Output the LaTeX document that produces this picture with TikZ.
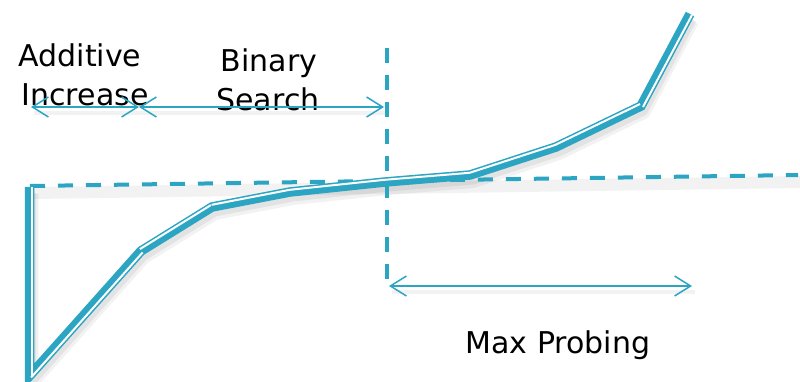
\documentclass[tikz,border=0pt]{standalone}
\usepackage{fontspec}
\setmainfont{DejaVu Sans}
\usetikzlibrary{arrows.meta}
\definecolor{teal1}{RGB}{44,165,195}
\tikzset{
  curveband/.style={draw=teal1, line width=9.5pt, line join=miter},
  curvestripe/.style={draw=white, line width=2pt, line cap=butt},
  shadowline/.style={draw=black, draw opacity=0.05, line width=12pt, line join=round},
  shadowcore/.style={draw=black, draw opacity=0.06, line width=7pt, line join=round},
  dashref/.style={draw=teal1, line width=4pt, dash pattern=on 15pt off 13pt},
  dashvert/.style={draw=teal1, line width=4pt, dash pattern=on 15pt off 12pt},
  span/.style={draw=teal1, line width=1.5pt, {Straight Barb[length=16pt,width=20pt,line width=1.5pt]}-{Straight Barb[length=16pt,width=20pt,line width=1.5pt]}},
  label/.style={font=\fontsize{30}{36}\selectfont, text=black, inner sep=0pt, anchor=base},
  imgshift/.style 2 args={transform canvas={xshift=#1pt, yshift=-#2pt}}
}
\begin{document}
\begin{tikzpicture}[x=1pt,y=-1pt]
\useasboundingbox[fill=white] (0,0) rectangle (800,382);
% curve points
\coordinate (p0) at (29.5,187);
\coordinate (p1) at (29.5,376);
\coordinate (p2) at (141,251);
\coordinate (p3) at (212,207);
\coordinate (p4) at (290,192);
\coordinate (p5) at (385,182);
\coordinate (p6) at (470,175);
\coordinate (p7) at (556,147);
\coordinate (p8) at (641,106);
\coordinate (p9) at (690,14);
% reference lines
\coordinate (h0) at (30,186);
\coordinate (h1) at (798,175);
\coordinate (v0) at (387,48);
\coordinate (v1) at (387,288);
% arrow ends
\coordinate (a0) at (31,107);
\coordinate (a1) at (139,107);
\coordinate (a2) at (384,107);
\coordinate (m0) at (389,286);
\coordinate (m1) at (692,286);

% faint shadows
\draw[shadowline, imgshift={3}{7}] (h0) -- (h1);
\draw[shadowline, imgshift={3}{7}] (p0) -- (p1) -- (p2) -- (p3) -- (p4) -- (p5) -- (p6) -- (p7) -- (p8) -- (p9);
\draw[shadowcore, imgshift={3}{6}] (p0) -- (p1) -- (p2) -- (p3) -- (p4) -- (p5) -- (p6) -- (p7) -- (p8) -- (p9);
\draw[shadowline, line width=4pt, imgshift={3}{6}] (m0) -- (m1);
\draw[shadowline, line width=4pt, imgshift={3}{6}] (a0) -- (a2);

\draw[dashref] (h0) -- (h1);
\draw[dashvert] (v0) -- (v1);

\draw[curveband] (p0) -- (p1) -- (p2) -- (p3) -- (p4) -- (p5) -- (p6) -- (p7) -- (p8) -- (p9);
\draw[curvestripe, imgshift={2.2}{0}] (p0) -- (p1);
\draw[curvestripe, imgshift={1.65}{1.45}] (p1) -- (p2);
\draw[curvestripe, imgshift={-1.15}{-1.9}] (p2) -- (p3);
\draw[curvestripe, imgshift={-0.35}{-2.2}] (p3) -- (p4) -- (p5) -- (p6);
\draw[curvestripe, imgshift={-0.7}{-2.1}] (p6) -- (p7);
\draw[curvestripe, imgshift={-0.95}{-2.0}] (p7) -- (p8);
\draw[curvestripe, imgshift={1.95}{1.05}] (p8) -- (p9);

\node[label] (t1) at (80,67) {Additive};
\node[label] (t2) at (85,106) {Increase};
\node[label] (t3) at (269,72) {Binary};
\node[label] (t4) at (268,111) {Search};
\node[label] (t5) at (558,353) {Max Probing};

\draw[span] (a0) -- (a1);
\draw[span] (a1) -- (a2);
\draw[span] (m0) -- (m1);
\end{tikzpicture}
\end{document}
